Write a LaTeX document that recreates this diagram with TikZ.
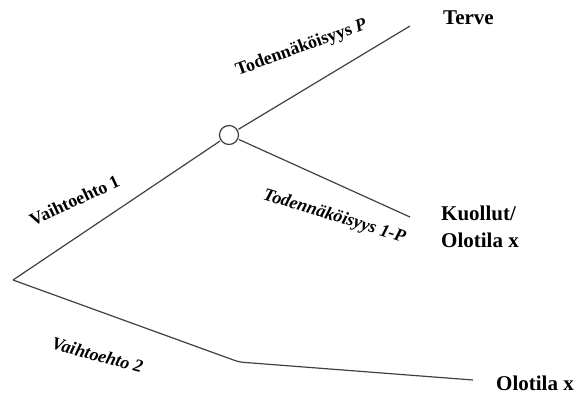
\documentclass[tikz,border=0pt]{standalone}
\usepackage{fontspec}
\setmainfont{Liberation Serif}
\begin{document}
\begin{tikzpicture}[x=1pt,y=-1pt,
  branch/.style={draw=black!75,line width=1.2pt},
  chance/.style={circle,draw=black!75,line width=1.2pt,fill=white,
    minimum size=19pt,inner sep=0pt,outer sep=1.5pt},
  outcome/.style={font=\fontsize{21}{26}\selectfont\bfseries,anchor=base west,
    inner sep=0pt,align=left},
  blabel/.style={font=\fontsize{18}{21}\selectfont\bfseries,anchor=base,inner sep=0pt},
  ilabel/.style={font=\fontsize{18}{21}\selectfont\bfseries\itshape,anchor=base,inner sep=0pt}]
\useasboundingbox (0,0) rectangle (581,394);

% decision tree points
\coordinate (root) at (13,280);
\node[chance] (c) at (229,135) {};
\coordinate (up) at (410,26);
\coordinate (down) at (410,217);
\coordinate (bend) at (239,362);
\coordinate (low) at (473,380);

% branches
\draw[branch] (root) -- (c);
\draw[branch] (c) -- (up);
\draw[branch] (c) -- (down);
\draw[branch,rounded corners=4pt] (root) -- (bend) -- (low);

% outcomes
\node[outcome] (terve) at (443,24) {Terve};
\node[outcome] (kuollut) at (441,220) {Kuollut/};
\node[outcome] (olo1) at (441,247) {Olotila x};
\node[outcome] (olo2) at (496,390) {Olotila x};

% branch labels
\node[blabel,rotate=20] (p) at (303,52) {Todennäköisyys \textit{P}};
\node[ilabel,rotate=-17] (q) at (333,221) {Todennäköisyys 1-P};
\node[blabel,rotate=25] (v1) at (77,206) {Vaihtoehto 1};
\node[ilabel,rotate=-15] (v2) at (96,361) {Vaihtoehto 2};
\end{tikzpicture}
\end{document}
